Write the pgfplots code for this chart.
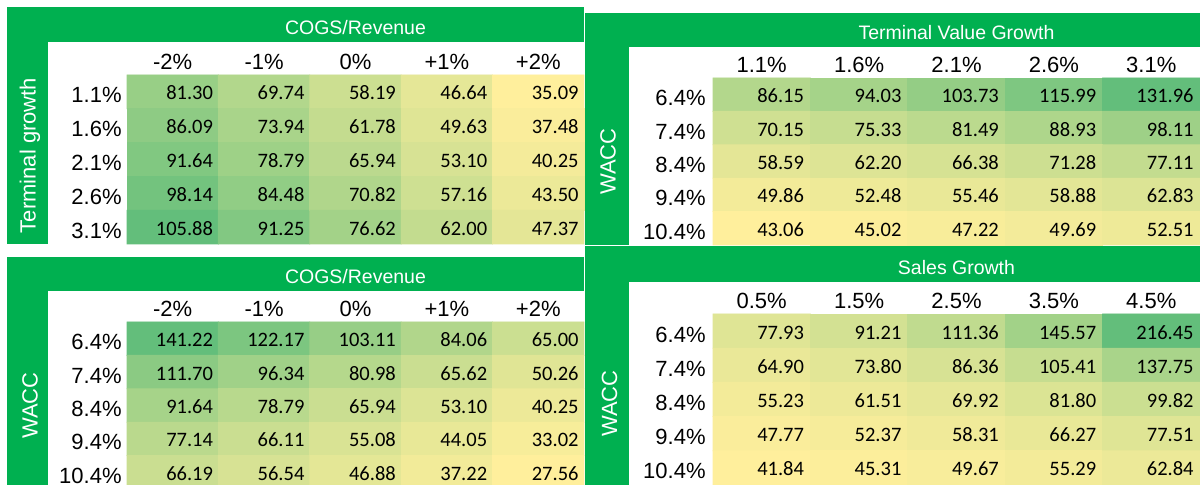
\documentclass[border=0pt]{standalone}
\usepackage{fontspec}
\setmainfont{Liberation Sans}
\newfontfamily\datafont{Carlito}
\usepackage{pgfplots}
\usepackage{pgfplotstable}
\pgfplotsset{compat=1.18}
\definecolor{xgreen}{RGB}{0,176,80}

\pgfplotstableread{
x y v
0 0 81.30
1 0 69.74
2 0 58.19
3 0 46.64
4 0 35.09
0 1 86.09
1 1 73.94
2 1 61.78
3 1 49.63
4 1 37.48
0 2 91.64
1 2 78.79
2 2 65.94
3 2 53.10
4 2 40.25
0 3 98.14
1 3 84.48
2 3 70.82
3 3 57.16
4 3 43.50
0 4 105.88
1 4 91.25
2 4 76.62
3 4 62.00
4 4 47.37
}\tltab

\pgfplotstableread{
x y v
0 0 86.15
1 0 94.03
2 0 103.73
3 0 115.99
4 0 131.96
0 1 70.15
1 1 75.33
2 1 81.49
3 1 88.93
4 1 98.11
0 2 58.59
1 2 62.20
2 2 66.38
3 2 71.28
4 2 77.11
0 3 49.86
1 3 52.48
2 3 55.46
3 3 58.88
4 3 62.83
0 4 43.06
1 4 45.02
2 4 47.22
3 4 49.69
4 4 52.51
}\trtab

\pgfplotstableread{
x y v
0 0 141.22
1 0 122.17
2 0 103.11
3 0 84.06
4 0 65.00
0 1 111.70
1 1 96.34
2 1 80.98
3 1 65.62
4 1 50.26
0 2 91.64
1 2 78.79
2 2 65.94
3 2 53.10
4 2 40.25
0 3 77.14
1 3 66.11
2 3 55.08
3 3 44.05
4 3 33.02
0 4 66.19
1 4 56.54
2 4 46.88
3 4 37.22
4 4 27.56
}\bltab

\pgfplotstableread{
x y v
0 0 77.93
1 0 91.21
2 0 111.36
3 0 145.57
4 0 216.45
0 1 64.90
1 1 73.80
2 1 86.36
3 1 105.41
4 1 137.75
0 2 55.23
1 2 61.51
2 2 69.92
3 2 81.80
4 2 99.82
0 3 47.77
1 3 52.37
2 3 58.31
3 3 66.27
4 3 77.51
0 4 41.84
1 4 45.31
2 4 49.67
3 4 55.29
4 4 62.84
}\brtab

\pgfplotsset{
  panel/.style={
    scale only axis, clip=false, enlargelimits=false,
    xmin=-0.5, xmax=4.5, ymin=-0.5, ymax=4.5, y dir=reverse,
    xtick={0,1,2,3,4}, ytick={0,1,2,3,4},
    xticklabel pos=top,
    axis line style={draw=none}, major tick length=0pt, tick style={draw=none},
    colormap={gy}{rgb255=(255,239,156) rgb255=(99,190,123)},
    xticklabel style={font=\fontsize{11}{13}\selectfont, anchor=base, inner sep=0pt, yshift=2.5pt},
    yticklabel style={font=\fontsize{11}{13}\selectfont, anchor=base east, inner sep=0pt, yshift=-5.5pt},
    every axis title shift=0pt,
    title style={font=\fontsize{9.75}{12}\selectfont, text=white, anchor=base},
    ylabel style={font=\fontsize{11}{13}\selectfont, text=white, anchor=center},
    nodes near coords={\pgfmathprintnumber[fixed,fixed zerofill,precision=2,assume math mode=true]{\pgfplotspointmeta}},
    nodes near coords align={center},
    every node near coord/.append style={font=\datafont\fontsize{10.25}{12}\selectfont, anchor=base east, text=black, inner sep=0pt, yshift=-4pt},
  },
}

\begin{document}
\begin{tikzpicture}
% panel frames
\fill[xgreen] (3.5pt,120.5pt) rectangle (292pt,239pt);
\fill[white] (24pt,120.5pt) rectangle (292pt,221.5pt);
\fill[xgreen] (292.5pt,120pt) rectangle (600pt,236pt);
\fill[white] (314.5pt,120pt) rectangle (600pt,219pt);
\fill[xgreen] (3.5pt,0pt) rectangle (292pt,114pt);
\fill[white] (24pt,0pt) rectangle (292pt,97pt);
\fill[xgreen] (292.5pt,0pt) rectangle (600pt,119.25pt);
\fill[white] (314.5pt,0pt) rectangle (600pt,101.5pt);

% top-left
\begin{axis}[panel, at={(63.5pt,120.5pt)}, anchor=south west,
  width=228.5pt, height=84.5pt,
  title={COGS/Revenue}, title style={at={(axis description cs:0.5,1)}, yshift=20pt},
  ylabel={Terminal growth}, ylabel style={at={(axis description cs:-0.2123,0.524)}},
  xticklabels={-2\%,-1\%,0\%,+1\%,+2\%},
  yticklabels={1.1\%,1.6\%,2.1\%,2.6\%,3.1\%},
  yticklabel style={xshift=-2.5pt},
  every node near coord/.append style={xshift=20.35pt}]
\addplot[matrix plot*, mesh/cols=5, point meta=explicit] table[x=x,y=y,meta=v] {\tltab};
\end{axis}

% top-right
\begin{axis}[panel, at={(356.5pt,120pt)}, anchor=south west,
  width=243.5pt, height=83.5pt,
  title={Terminal Value Growth}, title style={at={(axis description cs:0.5,1)}, yshift=19pt},
  ylabel={WACC}, ylabel style={at={(axis description cs:-0.2156,0.5)}},
  xticklabels={1.1\%,1.6\%,2.1\%,2.6\%,3.1\%},
  yticklabels={6.4\%,7.4\%,8.4\%,9.4\%,10.4\%},
  yticklabel style={xshift=-3.5pt},
  every node near coord/.append style={xshift=21.35pt}]
\addplot[matrix plot*, mesh/cols=5, point meta=explicit] table[x=x,y=y,meta=v] {\trtab};
\end{axis}

% bottom-left
\begin{axis}[panel, at={(63.5pt,-2pt)}, anchor=south west,
  width=228.5pt, height=83.5pt,
  title={COGS/Revenue}, title style={at={(axis description cs:0.5,1)}, yshift=19pt},
  ylabel={WACC}, ylabel style={at={(axis description cs:-0.2123,0.5)}},
  xticklabels={-2\%,-1\%,0\%,+1\%,+2\%},
  yticklabels={6.4\%,7.4\%,8.4\%,9.4\%,10.4\%},
  yticklabel style={xshift=-2.5pt},
  every node near coord/.append style={xshift=20.35pt}]
\addplot[matrix plot*, mesh/cols=5, point meta=explicit] table[x=x,y=y,meta=v] {\bltab};
\end{axis}

% bottom-right
\begin{axis}[panel, at={(356.5pt,0pt)}, anchor=south west,
  width=243.5pt, height=85.5pt,
  title={Sales Growth}, title style={at={(axis description cs:0.5,1)}, yshift=19.5pt},
  ylabel={WACC}, ylabel style={at={(axis description cs:-0.2125,0.4766)}},
  xticklabels={0.5\%,1.5\%,2.5\%,3.5\%,4.5\%},
  yticklabels={6.4\%,7.4\%,8.4\%,9.4\%,10.4\%},
  yticklabel style={xshift=-3.5pt},
  every node near coord/.append style={xshift=21.35pt}]
\addplot[matrix plot*, mesh/cols=5, point meta=explicit] table[x=x,y=y,meta=v] {\brtab};
\end{axis}

\pgfresetboundingbox
\path[use as bounding box] (0pt,0pt) rectangle (600pt,242.5pt);
\end{tikzpicture}
\end{document}
